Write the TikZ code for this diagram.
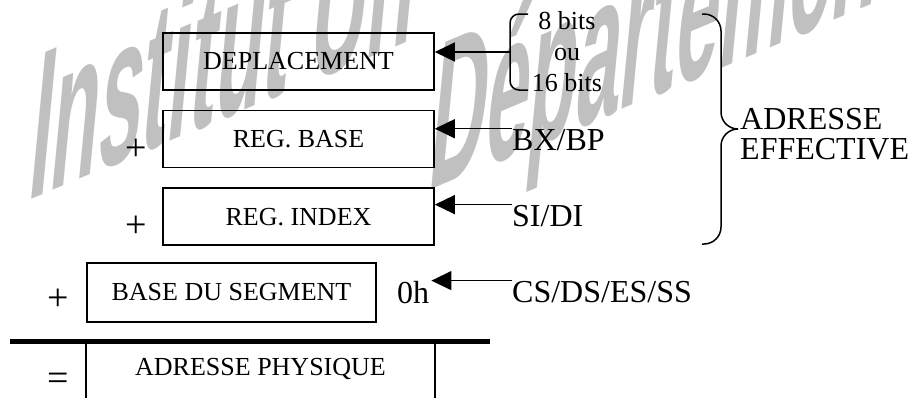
\documentclass[tikz,border=0pt]{standalone}
\usepackage{fontspec}
\setmainfont{Liberation Serif}
\newfontfamily\markFont[FakeStretch=0.38,FakeSlant=0.1]{Liberation Sans}
\usepackage{xcolor}
\definecolor{mainDark}{HTML}{000000}
\definecolor{markColor}{HTML}{C0C0C0}
\usepackage{tikz}
\usetikzlibrary{positioning,calc,arrows.meta}
\tikzset{
  regBox/.style={
    rectangle,
    draw=mainDark,
    line width=1.6pt,
    minimum width=271pt,
    minimum height=57pt,
    inner sep=0pt,
    font=\fontsize{26}{31}\selectfont
 },
  bigLabel/.style={
    anchor=base west,
    inner sep=0pt,
    font=\fontsize{32}{30}\selectfont
 },
  opSign/.style={
    inner sep=0pt,
    font=\fontsize{38}{38}\selectfont
 },
  boxLine/.style={
    line width=1.6pt,
    color=mainDark
 },
  braceLine/.style={
    line width=1.5pt,
    color=mainDark
 },
  sumLine/.style={
    line width=5pt,
    color=mainDark
 },
  arrowLine/.style={
    -{Triangle[length=20pt,width=19pt]},
    line width=1.4pt,
    color=mainDark
 },
  markText/.style={
    color=markColor,
    inner sep=0pt,
    anchor=base west,
    yslant=0.42,
    transform shape,
    font=\markFont\bfseries\fontsize{205}{205}\selectfont
 }
}

\begin{document}
\begin{tikzpicture}[x=1pt,y=-1pt]

            \useasboundingbox (0,0) rectangle (915,397);

            % watermark behind the drawing
            \begin{scope}
              \clip (0,0) rectangle (915,397);
              \node[markText] (markA) at (26,202) {Institut Un};
              \node[markText] (markB) at (426,192) {Départemen};
            \end{scope}

            % the three registers of the effective address
            \node[regBox] (depl) at (298.5,61.5) {DEPLACEMENT};
            \node[regBox, below=19pt of depl] (base) {REG. BASE};
            \node[regBox, below=19pt of base] (index) {REG. INDEX};
            \node[opSign] (plusA) at (136,150) {+};
            \node[opSign] (plusB) at (136,227) {+};

            % segment base and the sum
            \node[regBox, minimum width=289pt, minimum height=59pt] (seg) at (231.5,292.5) {BASE DU SEGMENT};
            \node[opSign] (plusC) at (58,300) {+};
            \draw[sumLine] (10,341) -- (490,341);
            \node[regBox, draw=none, minimum width=347pt, minimum height=56pt] (phys) at (260.5,369) {ADRESSE PHYSIQUE};
            \draw[boxLine] (phys.north west) -- (phys.south west);
            \draw[boxLine] (phys.north east) -- (phys.south east);
            \node[opSign] (equal) at (58,382) {=};

            % displacement size
            \node[align=center, inner sep=0pt, font=\fontsize{26}{31}\selectfont] (bits) at (567,52) {8 bits\\ou\\16 bits};
            \draw[braceLine, rounded corners=9pt] (528,14) -- (510,14) -- (510,90) -- (528,90);
            \coordinate (bitsMid) at (510,52);
            \draw[arrowLine] (bitsMid) -- (bitsMid -| depl.east);

            % registers feeding the boxes
            \node[bigLabel] (bxbp) at (512,150) {BX/BP};
            \draw[arrowLine] (bxbp.north west) -- (bxbp.north west -| base.east);
            \node[bigLabel] (sidi) at (512,226) {SI/DI};
            \draw[arrowLine] (sidi.north west) -- (sidi.north west -| index.east);
            \node[bigLabel, inner sep=2pt] (zero) at (395,303) {0h};
            \node[bigLabel] (csds) at (512,302) {CS/DS/ES/SS};
            \draw[arrowLine] (csds.north west) -- (csds.north west -| zero.east);

            % effective address brace
            \coordinate (effTip) at (738,129);
            \draw[braceLine, rounded corners=17pt] (702,14) -- (721,14) -- (721,129) -- (effTip);
            \draw[braceLine, rounded corners=17pt] (effTip) -- (721,129) -- (721,244) -- (702,244);
            \node[bigLabel, anchor=west, align=left] (effect) at (740,134) {ADRESSE\\EFFECTIVE};

        \end{tikzpicture}
\end{document}
